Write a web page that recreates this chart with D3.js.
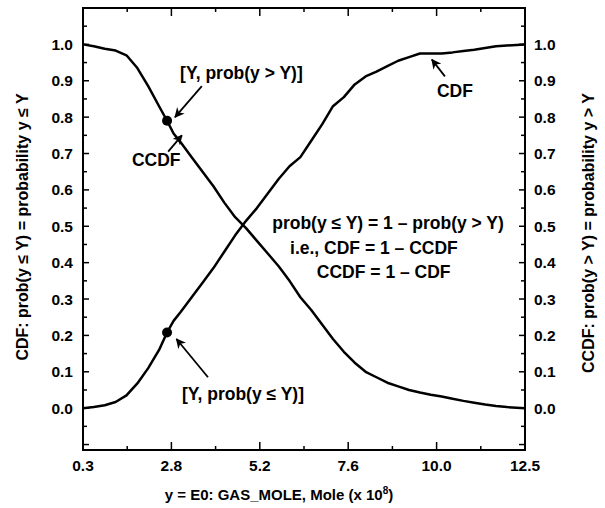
<!DOCTYPE html>
<html>
<head>
<meta charset="utf-8">
<script src="https://cdn.jsdelivr.net/npm/d3@7"></script>
<style>
  body { margin: 0; background: #fff; }
  svg text { font-family: "Liberation Sans", Arial, sans-serif; font-weight: bold; fill: #000; }
</style>
</head>
<body>
<svg id="chart"></svg>
<script>
var width = 605;
var height = 508;

// x values (Mole x 10^8) where the curves were read
var gasMole = [0.3, 0.6, 0.9, 1.2, 1.5, 1.8, 2.1, 2.4, 2.62, 2.8, 3.0, 3.3, 3.6, 3.9, 4.2, 4.5,
  4.8, 5.1, 5.4, 5.7, 6.0, 6.3, 6.6, 6.9, 7.2, 7.5, 7.8, 8.1, 8.4, 8.7, 9.0, 9.3, 9.6, 9.9,
  10.2, 10.5, 10.8, 11.1, 11.4, 11.7, 12.0, 12.5];

var cdf = [0.0, 0.003, 0.008, 0.017, 0.035, 0.068, 0.11, 0.16, 0.208, 0.24, 0.265, 0.305,
  0.345, 0.385, 0.43, 0.475, 0.515, 0.55, 0.59, 0.63, 0.665, 0.69, 0.735, 0.78, 0.83, 0.855,
  0.89, 0.912, 0.925, 0.94, 0.955, 0.965, 0.975, 0.975, 0.975, 0.978, 0.982, 0.985, 0.99,
  0.995, 0.997, 1.0];

var ccdf = [1.0, 0.995, 0.988, 0.983, 0.97, 0.935, 0.885, 0.83, 0.79, 0.755, 0.73, 0.69,
  0.65, 0.61, 0.565, 0.525, 0.495, 0.46, 0.425, 0.39, 0.35, 0.305, 0.27, 0.23, 0.19, 0.155,
  0.125, 0.1, 0.085, 0.07, 0.06, 0.05, 0.043, 0.037, 0.032, 0.026, 0.02, 0.015, 0.01,
  0.006, 0.003, 0.0];

var xTickLabels = ["0.3", "2.8", "5.2", "7.6", "10.0", "12.5"];
var yTickLabels = ["0.0", "0.1", "0.2", "0.3", "0.4", "0.5", "0.6", "0.7", "0.8", "0.9", "1.0"];

// the marked point [Y, prob]
var markY = 2.62;
var markCdf = 0.208;
var markCcdf = 0.79;

var eqLines = ["prob(y \u2264 Y) = 1 \u2013 prob(y > Y)", "i.e., CDF = 1 \u2013 CCDF", "CCDF = 1 \u2013 CDF"];

var plotL = 83, plotR = 525, plotT = 8, plotB = 450;

var x = d3.scaleLinear().domain([0.3, 12.5]).range([plotL, plotR]);
var y = d3.scaleLinear().domain([-0.115, 1.1]).range([plotB, plotT]);

var svg = d3.select("#chart").attr("width", width).attr("height", height);

svg.append("defs").append("marker")
  .attr("id", "head")
  .attr("viewBox", "0 0 10 10")
  .attr("refX", 9).attr("refY", 5)
  .attr("markerWidth", 10).attr("markerHeight", 10)
  .attr("markerUnits", "userSpaceOnUse")
  .attr("orient", "auto")
  .append("path")
  .attr("d", "M0,0 L10,5 L0,10 L3,5 Z")
  .attr("fill", "#000");

// ticks
var xMajor = d3.range(6).map(function(i) { return 0.3 + i * 12.2 / 5; });
var xMinor = d3.range(5).map(function(i) { return 0.3 + (i + 0.5) * 12.2 / 5; });
var yAll = d3.range(-0.1, 1.1, 0.05).map(function(v) { return Math.round(v * 100) / 100; });

var ticks = svg.append("g").attr("stroke", "#000").attr("stroke-width", 1.5);
xMajor.concat(xMinor).forEach(function(v, i) {
  var len = i < xMajor.length ? 8 : 4;
  ticks.append("line").attr("x1", x(v)).attr("x2", x(v)).attr("y1", plotB).attr("y2", plotB - len);
  ticks.append("line").attr("x1", x(v)).attr("x2", x(v)).attr("y1", plotT).attr("y2", plotT + len);
});
yAll.forEach(function(v) {
  var major = Math.abs(v * 10 - Math.round(v * 10)) < 1e-6;
  var len = major ? 6 : 4;
  ticks.append("line").attr("x1", plotL).attr("x2", plotL + len).attr("y1", y(v)).attr("y2", y(v));
  ticks.append("line").attr("x1", plotR).attr("x2", plotR - len).attr("y1", y(v)).attr("y2", y(v));
});

svg.append("rect")
  .attr("x", plotL).attr("y", plotT)
  .attr("width", plotR - plotL).attr("height", plotB - plotT)
  .attr("fill", "none").attr("stroke", "#000").attr("stroke-width", 2);

// tick labels
svg.selectAll(".xlab").data(xMajor).enter().append("text")
  .attr("x", function(d) { return x(d); })
  .attr("y", plotB + 21)
  .attr("text-anchor", "middle")
  .attr("font-size", 15.5)
  .text(function(d, i) { return xTickLabels[i]; });

yTickLabels.forEach(function(t, i) {
  var v = i / 10;
  svg.append("text").attr("x", plotL - 10).attr("y", y(v) + 5.5)
    .attr("text-anchor", "end").attr("font-size", 15.5).text(t);
  svg.append("text").attr("x", plotR + 9).attr("y", y(v) + 5.5)
    .attr("text-anchor", "start").attr("font-size", 15.5).text(t);
});

// axis titles
var xt = svg.append("text").attr("x", 279).attr("y", 500)
  .attr("text-anchor", "middle").attr("font-size", 15);
xt.append("tspan").text("y = E0: GAS_MOLE, Mole (x 10");
xt.append("tspan").attr("dy", -6).attr("font-size", 10).text("8");
xt.append("tspan").attr("dy", 6).text(")");

svg.append("text")
  .attr("transform", "translate(28,227) rotate(-90)")
  .attr("text-anchor", "middle").attr("font-size", 16)
  .text("CDF: prob(y \u2264 Y) = probability y \u2264 Y");

svg.append("text")
  .attr("transform", "translate(594,233) rotate(-90)")
  .attr("text-anchor", "middle").attr("font-size", 16)
  .text("CCDF: prob(y > Y) = probability y > Y");

// curves
var line = d3.line()
  .x(function(d) { return x(d[0]); })
  .y(function(d) { return y(d[1]); });

[cdf, ccdf].forEach(function(series) {
  svg.append("path")
    .datum(d3.zip(gasMole, series))
    .attr("d", line)
    .attr("fill", "none")
    .attr("stroke", "#000")
    .attr("stroke-width", 2.5)
    .attr("stroke-linejoin", "round");
});

svg.selectAll(".dot").data([markCdf, markCcdf]).enter().append("circle")
  .attr("cx", x(markY))
  .attr("cy", function(d) { return y(d); })
  .attr("r", 5)
  .attr("fill", "#000");

// annotations (positions in data units)
var notes = [
  { text: "[Y, prob(y > Y)]", tx: 2.98, ty: 0.905, from: [3.58, 0.885], to: [2.84, 0.80] },
  { text: "CCDF", tx: 1.65, ty: 0.665, from: [2.65, 0.705], to: [3.03, 0.75] },
  { text: "[Y, prob(y \u2264 Y)]", tx: 3.03, ty: 0.022, from: [3.75, 0.085], to: [2.88, 0.19] },
  { text: "CDF", tx: 10.07, ty: 0.855, from: [10.29, 0.912], to: [9.93, 0.958] }
];

notes.forEach(function(n) {
  svg.append("text").attr("x", x(n.tx)).attr("y", y(n.ty))
    .attr("font-size", 17.5).text(n.text);
  svg.append("line")
    .attr("x1", x(n.from[0])).attr("y1", y(n.from[1]))
    .attr("x2", x(n.to[0])).attr("y2", y(n.to[1]))
    .attr("stroke", "#000").attr("stroke-width", 1.8)
    .attr("marker-end", "url(#head)");
});

var eqX = [8.72, 8.33, 8.6];
var eqY = [0.492, 0.423, 0.357];
eqLines.forEach(function(t, i) {
  svg.append("text").attr("x", x(eqX[i])).attr("y", y(eqY[i]))
    .attr("text-anchor", "middle").attr("font-size", 17.5).text(t);
});
</script>
</body>
</html>
